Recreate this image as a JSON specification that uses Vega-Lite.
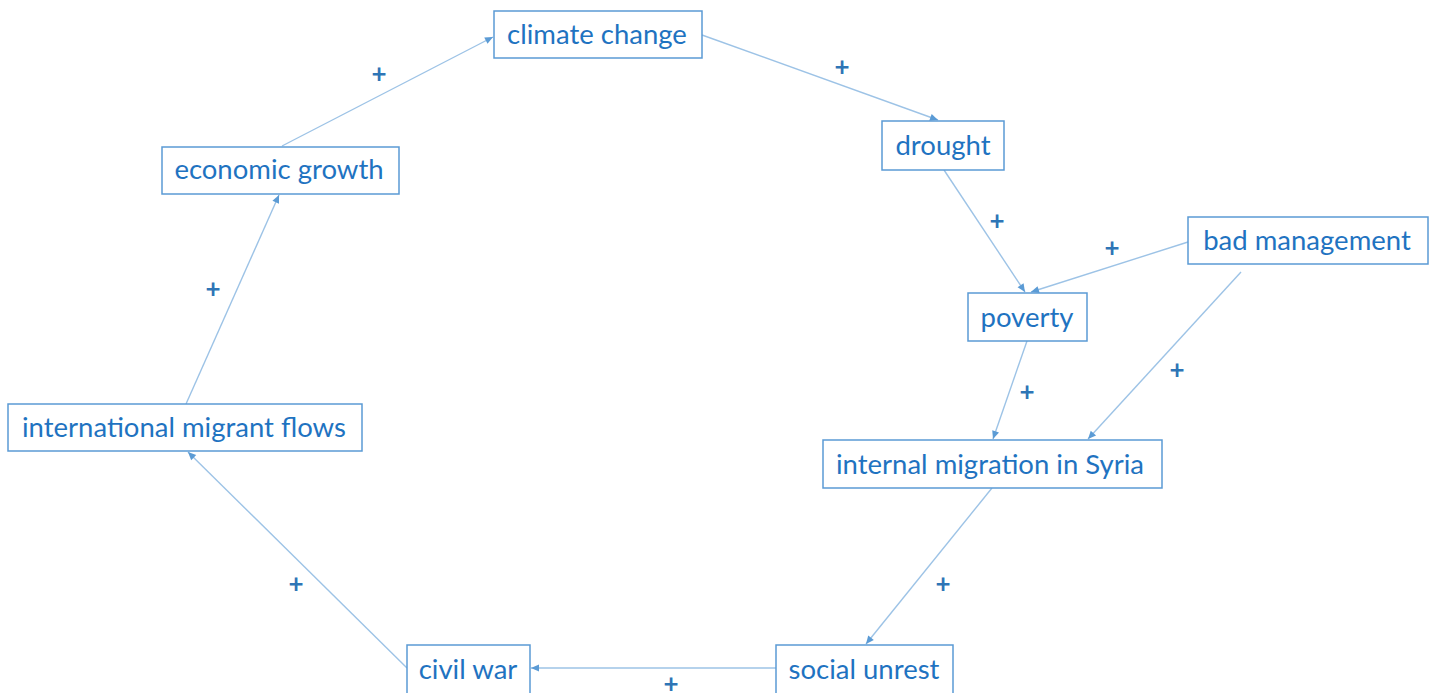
{
  "$schema": "https://vega.github.io/schema/vega-lite/v6.json",
  "autosize": {"type": "none"},
  "padding": 0,
  "width": 1436,
  "height": 693,
  "background": "white",
  "config": {"view": {"stroke": null}},
  "datasets": {
    "nodes": [
      {"label": "climate change", "x1": 494, "x2": 702, "y1": 11, "y2": 58, "cx": 597, "cy": 36},
      {"label": "drought", "x1": 882, "x2": 1004, "y1": 121, "y2": 170, "cx": 943, "cy": 147},
      {"label": "bad management", "x1": 1188, "x2": 1428, "y1": 217, "y2": 264, "cx": 1307, "cy": 242},
      {"label": "poverty", "x1": 968, "x2": 1087, "y1": 293, "y2": 341, "cx": 1027, "cy": 319},
      {"label": "internal migration in Syria", "x1": 823, "x2": 1162, "y1": 440, "y2": 488, "cx": 990, "cy": 466},
      {"label": "social unrest", "x1": 776, "x2": 953, "y1": 645, "y2": 696, "cx": 864, "cy": 671},
      {"label": "civil war", "x1": 407, "x2": 530, "y1": 645, "y2": 696, "cx": 468, "cy": 671},
      {"label": "international migrant flows", "x1": 8, "x2": 362, "y1": 404, "y2": 451, "cx": 184, "cy": 429},
      {"label": "economic growth", "x1": 162, "x2": 399, "y1": 147, "y2": 194, "cx": 279, "cy": 171}
    ],
    "links": [
      {"from": "economic growth", "to": "climate change", "x": 282, "y": 146, "x2": 493, "y2": 37, "sign": "+", "lx": 379, "ly": 75},
      {"from": "climate change", "to": "drought", "x": 702, "y": 35, "x2": 938, "y2": 120, "sign": "+", "lx": 842, "ly": 68},
      {"from": "drought", "to": "poverty", "x": 944, "y": 170, "x2": 1025, "y2": 292, "sign": "+", "lx": 997, "ly": 222},
      {"from": "bad management", "to": "poverty", "x": 1188, "y": 242, "x2": 1031, "y2": 292, "sign": "+", "lx": 1112, "ly": 249},
      {"from": "poverty", "to": "internal migration in Syria", "x": 1027, "y": 341, "x2": 993, "y2": 439, "sign": "+", "lx": 1027, "ly": 393},
      {"from": "bad management", "to": "internal migration in Syria", "x": 1241, "y": 272, "x2": 1088, "y2": 439, "sign": "+", "lx": 1177, "ly": 371},
      {"from": "internal migration in Syria", "to": "social unrest", "x": 992, "y": 488, "x2": 866, "y2": 644, "sign": "+", "lx": 943, "ly": 585},
      {"from": "social unrest", "to": "civil war", "x": 776, "y": 668, "x2": 531, "y2": 668, "sign": "+", "lx": 671, "ly": 685},
      {"from": "civil war", "to": "international migrant flows", "x": 407, "y": 668, "x2": 188, "y2": 452, "sign": "+", "lx": 296, "ly": 585},
      {"from": "international migrant flows", "to": "economic growth", "x": 186, "y": 404, "x2": 279, "y2": 195, "sign": "+", "lx": 213, "ly": 290}
    ]
  },
  "layer": [
    {
      "data": {"name": "links"},
      "mark": {"type": "rule", "color": "#9dc3e6", "strokeWidth": 1.4},
      "encoding": {
        "x": {"field": "x", "type": "quantitative", "scale": {"domain": [0, 1436]}, "axis": null},
        "y": {"field": "y", "type": "quantitative", "scale": {"domain": [0, 693], "reverse": true}, "axis": null},
        "x2": {"field": "x2"},
        "y2": {"field": "y2"}
      }
    },
    {
      "data": {"name": "nodes"},
      "mark": {"type": "rect", "fill": "white", "stroke": "#5b9bd5", "strokeWidth": 1.5},
      "encoding": {
        "x": {"field": "x1", "type": "quantitative", "scale": {"domain": [0, 1436]}, "axis": null},
        "x2": {"field": "x2"},
        "y": {"field": "y1", "type": "quantitative", "scale": {"domain": [0, 693], "reverse": true}, "axis": null},
        "y2": {"field": "y2"}
      }
    },
    {
      "data": {"name": "links"},
      "transform": [
        {"calculate": "atan2(datum.x2 - datum.x, datum.y - datum.y2) * 180 / PI", "as": "heading"}
      ],
      "mark": {"type": "point", "shape": "M0,0L-0.45,1L0.45,1Z", "filled": true, "size": 256, "color": "#5b9bd5", "opacity": 1},
      "encoding": {
        "x": {"field": "x2", "type": "quantitative", "scale": {"domain": [0, 1436]}, "axis": null},
        "y": {"field": "y2", "type": "quantitative", "scale": {"domain": [0, 693], "reverse": true}, "axis": null},
        "angle": {"field": "heading", "type": "quantitative", "scale": null}
      }
    },
    {
      "data": {"name": "links"},
      "mark": {"type": "text", "font": "Lato", "fontSize": 26, "fontWeight": "bold", "color": "#2e75b6", "align": "center", "baseline": "middle"},
      "encoding": {
        "x": {"field": "lx", "type": "quantitative", "scale": {"domain": [0, 1436]}, "axis": null},
        "y": {"field": "ly", "type": "quantitative", "scale": {"domain": [0, 693], "reverse": true}, "axis": null},
        "text": {"field": "sign"}
      }
    },
    {
      "data": {"name": "nodes"},
      "mark": {"type": "text", "font": "Lato", "fontSize": 27.5, "color": "#1f73c1", "align": "center", "baseline": "middle"},
      "encoding": {
        "x": {"field": "cx", "type": "quantitative", "scale": {"domain": [0, 1436]}, "axis": null},
        "y": {"field": "cy", "type": "quantitative", "scale": {"domain": [0, 693], "reverse": true}, "axis": null},
        "text": {"field": "label"}
      }
    }
  ]
}
